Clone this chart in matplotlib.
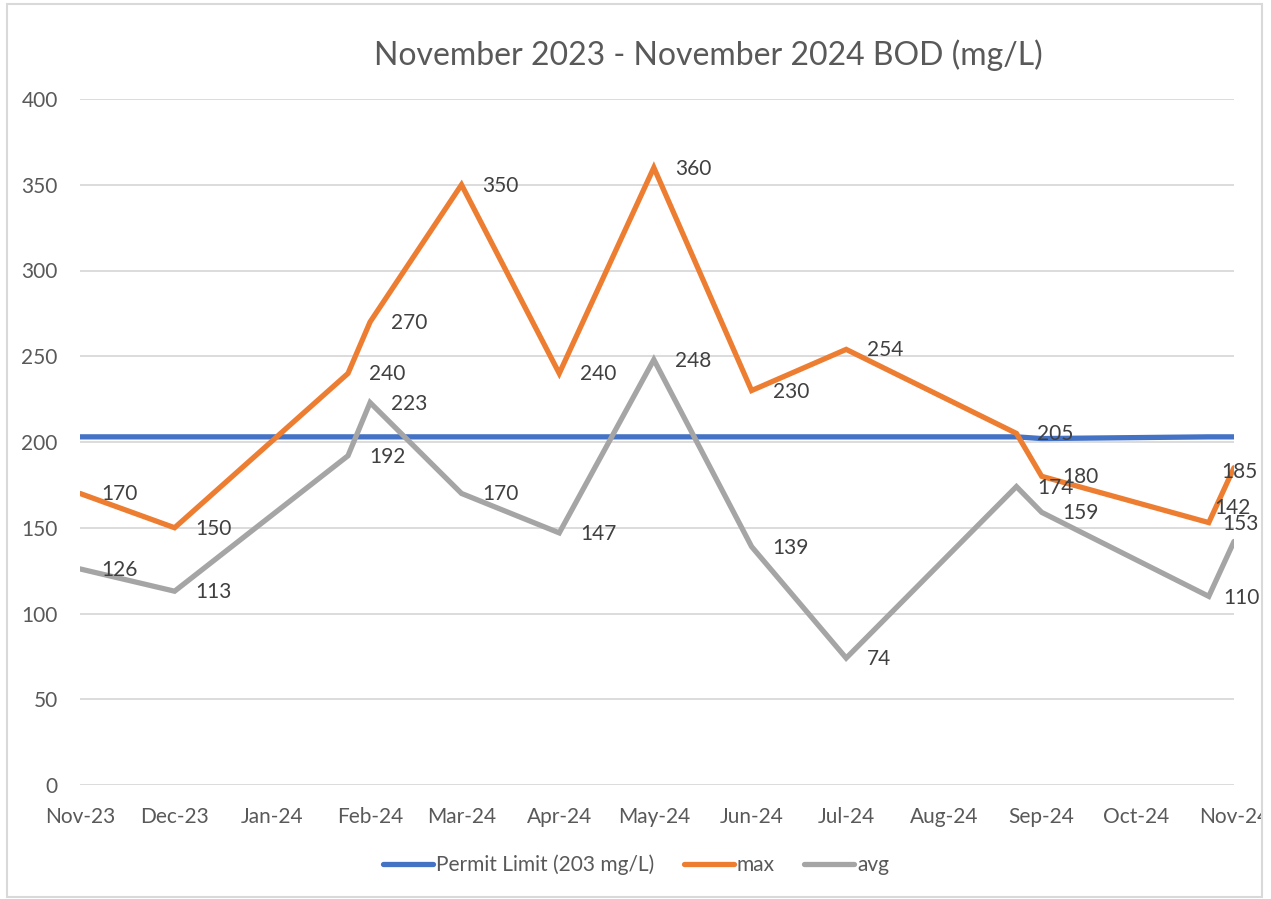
import matplotlib
matplotlib.use("Agg")
import matplotlib.pyplot as plt
import matplotlib.dates as mdates
from matplotlib.patches import Rectangle
import numpy as np
import pandas as pd

plt.rcParams['font.family'] = ['Lato', 'DejaVu Sans']

title = "November 2023 - November 2024 BOD (mg/L)"
dates = pd.to_datetime(["2023-11-01", "2023-12-01", "2024-01-25", "2024-02-01",
                        "2024-03-01", "2024-04-01", "2024-05-01", "2024-06-01",
                        "2024-07-01", "2024-08-24", "2024-09-01", "2024-10-24",
                        "2024-11-01"])
permit_limit = [203, 203, 203, 203, 203, 203, 203, 203, 203, 203, 202, 203, 203]
max_vals = [170, 150, 240, 270, 350, 240, 360, 230, 254, 205, 180, 153, 185]
avg_vals = [126, 113, 192, 223, 170, 147, 248, 139, 74, 174, 159, 110, 142]
series_names = ["Permit Limit (203 mg/L)", "max", "avg"]
tick_months = pd.date_range("2023-11-01", "2024-11-01", freq="MS")

BLUE = "#4472C4"
ORANGE = "#ED7D31"
GRAY = "#A5A5A5"
TXT = "#595959"
LBL = "#404040"

fig = plt.figure(figsize=(12.71, 8.99), dpi=100)
ax = fig.add_axes([80 / 1271, 1 - 785 / 899, (1234 - 80) / 1271, (785 - 99) / 899])

lw = 3.8
ax.plot(dates, permit_limit, color=BLUE, lw=lw, solid_capstyle='round', label=series_names[0], zorder=3)
ax.plot(dates, max_vals, color=ORANGE, lw=lw, solid_capstyle='round', solid_joinstyle='miter', label=series_names[1], zorder=3)
ax.plot(dates, avg_vals, color=GRAY, lw=lw, solid_capstyle='round', solid_joinstyle='miter', label=series_names[2], zorder=3)

# data labels
default_off = (21, -1)
max_off = {11: (13, -1), 12: (-13, -4)}
avg_off = {11: (14, -2), 12: (-20, 33)}
for i, (d, v) in enumerate(zip(dates, max_vals)):
    ax.annotate(str(v), (d, v), xytext=max_off.get(i, default_off), textcoords='offset pixels',
                ha='left', va='center', fontsize=15, color=LBL, zorder=5)
for i, (d, v) in enumerate(zip(dates, avg_vals)):
    ax.annotate(str(v), (d, v), xytext=avg_off.get(i, default_off), textcoords='offset pixels',
                ha='left', va='center', fontsize=15, color=LBL, zorder=5)

ax.set_xlim(tick_months[0], tick_months[-1])
ax.set_ylim(0, 400)
ax.set_yticks(np.arange(0, 401, 50))
ax.set_xticks(tick_months)
ax.xaxis.set_major_formatter(mdates.DateFormatter("%b-%y"))
ax.grid(axis='y', color="#D9D9D9", lw=1.3)
ax.set_axisbelow(True)
for s in ax.spines.values():
    s.set_visible(False)
ax.tick_params(axis='both', length=0, labelsize=15, colors=TXT)
ax.tick_params(axis='y', pad=16)
ax.tick_params(axis='x', pad=16)
ax.set_clip_on(False)

fig.text(708 / 1271, 1 - 55 / 899, title, ha='center', va='center', fontsize=23, color=TXT)

leg = fig.legend(loc='center', bbox_to_anchor=(636 / 1271, 1 - 865 / 899), ncol=3, frameon=False,
                 fontsize=15, handlelength=2.4, handletextpad=0.15, columnspacing=1.4)
for t in leg.get_texts():
    t.set_color(TXT)

# chart border and clip beyond it
fig.patches.append(Rectangle((1263 / 1271, 0), 8 / 1271, 1, transform=fig.transFigure,
                             facecolor='white', edgecolor='none', zorder=10))
fig.patches.append(Rectangle((7 / 1271, 2 / 899), (1262 - 7) / 1271, (895 - 2) / 899,
                             transform=fig.transFigure, facecolor='none',
                             edgecolor="#D9D9D9", lw=1.5, zorder=11))

fig.savefig("out.png", dpi=100)
